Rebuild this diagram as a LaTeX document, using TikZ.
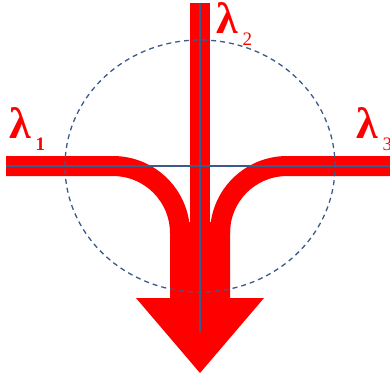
\documentclass[tikz,border=0pt]{standalone}
\usepackage{fontspec}
\setmainfont{Liberation Serif}
\usetikzlibrary{positioning}
\definecolor{mrgRed}{HTML}{FF0000}
\definecolor{mrgBlue}{HTML}{3B5B8C}
\tikzset{
  mrg band/.style={fill=mrgRed},
  mrg axis/.style={draw=mrgBlue, line width=1.3pt},
  mrg zone/.style={draw=mrgBlue, dashed, dash pattern=on 5pt off 4pt, line width=1.3pt},
  mrg label/.style={text=mrgRed, inner sep=0pt, anchor=base west},
}
\newcommand{\mrglam}[2]{{\fontsize{44}{44}\selectfont\bfseries λ}\raisebox{-12pt}{\fontsize{19}{19}\selectfont#1 #2}}

\begin{document}
\begin{tikzpicture}[x=1pt,y=1pt]
  \useasboundingbox (0,0) rectangle (390,376);
  \coordinate (hub) at (200,210);
  % incoming bands
  \fill[mrg band] (6,220) -- (113,220) arc[start angle=90,end angle=0,radius=77] -- (170,143) arc[start angle=0,end angle=90,radius=57] -- (6,200) -- cycle;
  \fill[mrg band] (394,220) -- (287,220) arc[start angle=90,end angle=180,radius=77] -- (230,143) arc[start angle=180,end angle=90,radius=57] -- (394,200) -- cycle;
  \fill[mrg band] (190,373) rectangle (210,150);
  % merged output
  \fill[mrg band] (170,154) -- (170,78) -- (136,78) -- (200,3) -- (264,78) -- (230,78) -- (230,154) -- cycle;
  % guides
  \draw[mrg zone] (hub) ellipse [x radius=135, y radius=126];
  \draw[mrg axis] (6,210) -- (392,210);
  \draw[mrg axis] (200,373) -- (200,44);
  \node[mrg label] (lam1) at (9,238) {\mrglam{\bfseries}{1}};
  \node[mrg label] (lam2) at (216,343) {\mrglam{}{2}};
  \node[mrg label] (lam3) at (356,238) {\mrglam{}{3}};
\end{tikzpicture}
\end{document}
